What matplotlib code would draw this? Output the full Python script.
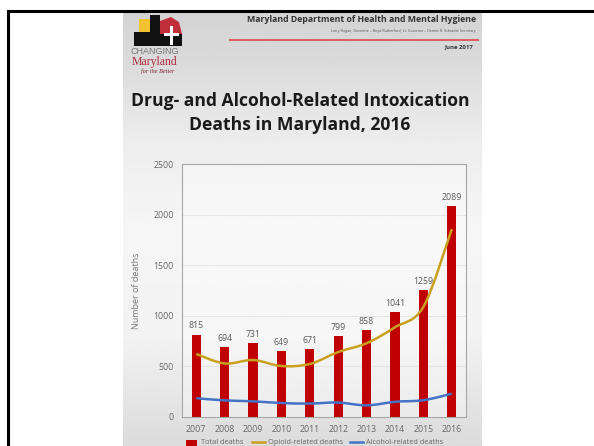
import numpy as np
import matplotlib.pyplot as plt
from matplotlib.path import Path
from matplotlib.patches import PathPatch, Rectangle, Polygon
from matplotlib.lines import Line2D

years = ['2007', '2008', '2009', '2010', '2011', '2012', '2013', '2014', '2015', '2016']
total_deaths = [815, 694, 731, 649, 671, 799, 858, 1041, 1259, 2089]
opioid_deaths = [623, 529, 563, 504, 524, 642, 729, 887, 1089, 1856]
alcohol_deaths = [186, 164, 155, 138, 133, 143, 115, 150, 166, 230]
y_ticks = [0, 500, 1000, 1500, 2000, 2500]

W, H = 594, 446
plt.rcParams['font.family'] = ['Open Sans', 'DejaVu Sans']

fig = plt.figure(figsize=(W / 100, H / 100), dpi=100)
fig.patch.set_facecolor('white')


def fx(x):
    return x / W


def fy(y):
    return 1 - y / H


# page background (grey gradient of the scanned document)
bg = fig.add_axes([fx(123), 0, fx(482) - fx(123), fy(13)], zorder=0)
stops_y = [0.0, 0.12, 0.30, 0.50, 0.75, 1.0]
stops_c = [0.83, 0.86, 0.93, 0.965, 0.95, 0.86]
g = np.interp(np.linspace(0, 1, 200), stops_y, stops_c)
bg.imshow(np.repeat(g[:, None], 2, axis=1), cmap='gray', vmin=0, vmax=1,
          aspect='auto', extent=[0, 1, 0, 1], origin='upper')
bg.axis('off')

# outer frame
fig.add_artist(Line2D([fx(8), 1], [fy(11), fy(11)], color='black', lw=2.2))
fig.add_artist(Line2D([fx(8), fx(8)], [fy(11), 0], color='black', lw=2.2))


# logo (simplified flag shape)
def px_poly(pts, color):
    fig.add_artist(Polygon([(fx(a), fy(b)) for a, b in pts], closed=True,
                           facecolor=color, edgecolor='none', zorder=3))


px_poly([(139, 19), (152, 19), (152, 32), (139, 32)], '#f2c230')
px_poly([(150, 15), (160, 15), (160, 32), (150, 32)], '#111111')
px_poly([(134, 32), (160, 32), (160, 46), (134, 46)], '#111111')
px_poly([(160, 21), (171, 17), (179, 22), (182, 34), (160, 34)], '#c0303a')
px_poly([(160, 34), (182, 34), (182, 46), (160, 46)], '#111111')
px_poly([(170, 26), (173, 26), (173, 45), (170, 45)], 'white')
px_poly([(164, 33), (179, 33), (179, 36), (164, 36)], 'white')
fig.text(fx(155), fy(52), 'CHANGING', ha='center', va='center', fontsize=6.5,
         color='#777777', family='Liberation Sans')
fig.text(fx(154), fy(62), 'Maryland', ha='center', va='center', fontsize=8.5,
         color='#b02a40', family='Liberation Serif')
fig.text(fx(158), fy(71), 'for the Better', ha='center', va='center', fontsize=4.5,
         color='#7a2030', family='Liberation Serif', style='italic')

# header
fig.text(fx(476), fy(20), 'Maryland Department of Health and Mental Hygiene',
         ha='right', va='center', fontsize=6.3, fontweight='bold', color='#333333')
fig.text(fx(476), fy(31), 'Larry Hogan, Governor \u2013 Boyd Rutherford, Lt. Governor \u2013 Dennis R. Schrader Secretary',
         ha='right', va='center', fontsize=2.6, color='#555555')
fig.add_artist(Line2D([fx(230), fx(478)], [fy(40), fy(40)], color='#e05a5a', lw=1.4))
fig.text(fx(473), fy(47), 'June 2017', ha='right', va='center', fontsize=4.3,
         fontweight='bold', color='#333333')

# title
fig.text(fx(300), fy(101), 'Drug- and Alcohol-Related Intoxication', ha='center', va='center',
         fontsize=12.6, fontweight='bold', color='#1a1a1a')
fig.text(fx(300), fy(125), 'Deaths in Maryland, 2016', ha='center', va='center',
         fontsize=12.6, fontweight='bold', color='#1a1a1a')

# chart
ax = fig.add_axes([fx(182), fy(417), fx(466) - fx(182), fy(164) - fy(417)], zorder=2)
ax.set_facecolor((1, 1, 1, 0.35))
x = np.arange(len(years))
ax.bar(x, total_deaths, width=0.32, color='#c00000', zorder=2)
for xi, v in zip(x, total_deaths):
    ax.text(xi, v + 40, str(v), ha='center', va='bottom', fontsize=6.3, color='#595959')


def smooth_line(vals, color):
    pts = list(zip(x, vals))
    verts = [pts[0]]
    codes = [Path.MOVETO]
    for i in range(len(pts) - 1):
        p0 = pts[max(i - 1, 0)]
        p1 = pts[i]
        p2 = pts[i + 1]
        p3 = pts[min(i + 2, len(pts) - 1)]
        c1 = (p1[0] + (p2[0] - p0[0]) / 6, p1[1] + (p2[1] - p0[1]) / 6)
        c2 = (p2[0] - (p3[0] - p1[0]) / 6, p2[1] - (p3[1] - p1[1]) / 6)
        verts += [c1, c2, p2]
        codes += [Path.CURVE4] * 3
    ax.add_patch(PathPatch(Path(verts, codes), facecolor='none', edgecolor=color,
                           lw=1.8, zorder=3))


smooth_line(opioid_deaths, '#c9a020')
smooth_line(alcohol_deaths, '#4472c4')

ax.set_xlim(-0.5, len(years) - 0.5)
ax.set_ylim(0, 2500)
ax.set_yticks(y_ticks)
ax.set_xticks(x)
ax.set_xticklabels(years)
ax.tick_params(length=0, labelsize=6.3, colors='#666666', pad=6)
ax.grid(axis='y', color='#e4e4e4', lw=0.7, zorder=0)
for s in ax.spines.values():
    s.set_color('#a6a6a6')
    s.set_linewidth(0.8)
ax.set_ylabel('Number of deaths', fontsize=6.5, color='#777777', labelpad=9)

# legend row along the bottom edge of the screenshot
fig.add_artist(Rectangle((fx(186), fy(446)), fx(197) - fx(186), fy(440) - fy(446),
                         facecolor='#c00000', edgecolor='none'))
fig.text(fx(201), fy(444), 'Total deaths', ha='left', va='baseline', fontsize=5.3, color='#666666')
fig.add_artist(Line2D([fx(252), fx(265)], [fy(442), fy(442)], color='#c9a020', lw=1.8))
fig.text(fx(268), fy(444), 'Opioid-related deaths', ha='left', va='baseline', fontsize=5.3, color='#666666')
fig.add_artist(Line2D([fx(350), fx(363)], [fy(442), fy(442)], color='#4472c4', lw=1.8))
fig.text(fx(366), fy(444), 'Alcohol-related deaths', ha='left', va='baseline', fontsize=5.3, color='#666666')

fig.savefig('out.png', dpi=100)
